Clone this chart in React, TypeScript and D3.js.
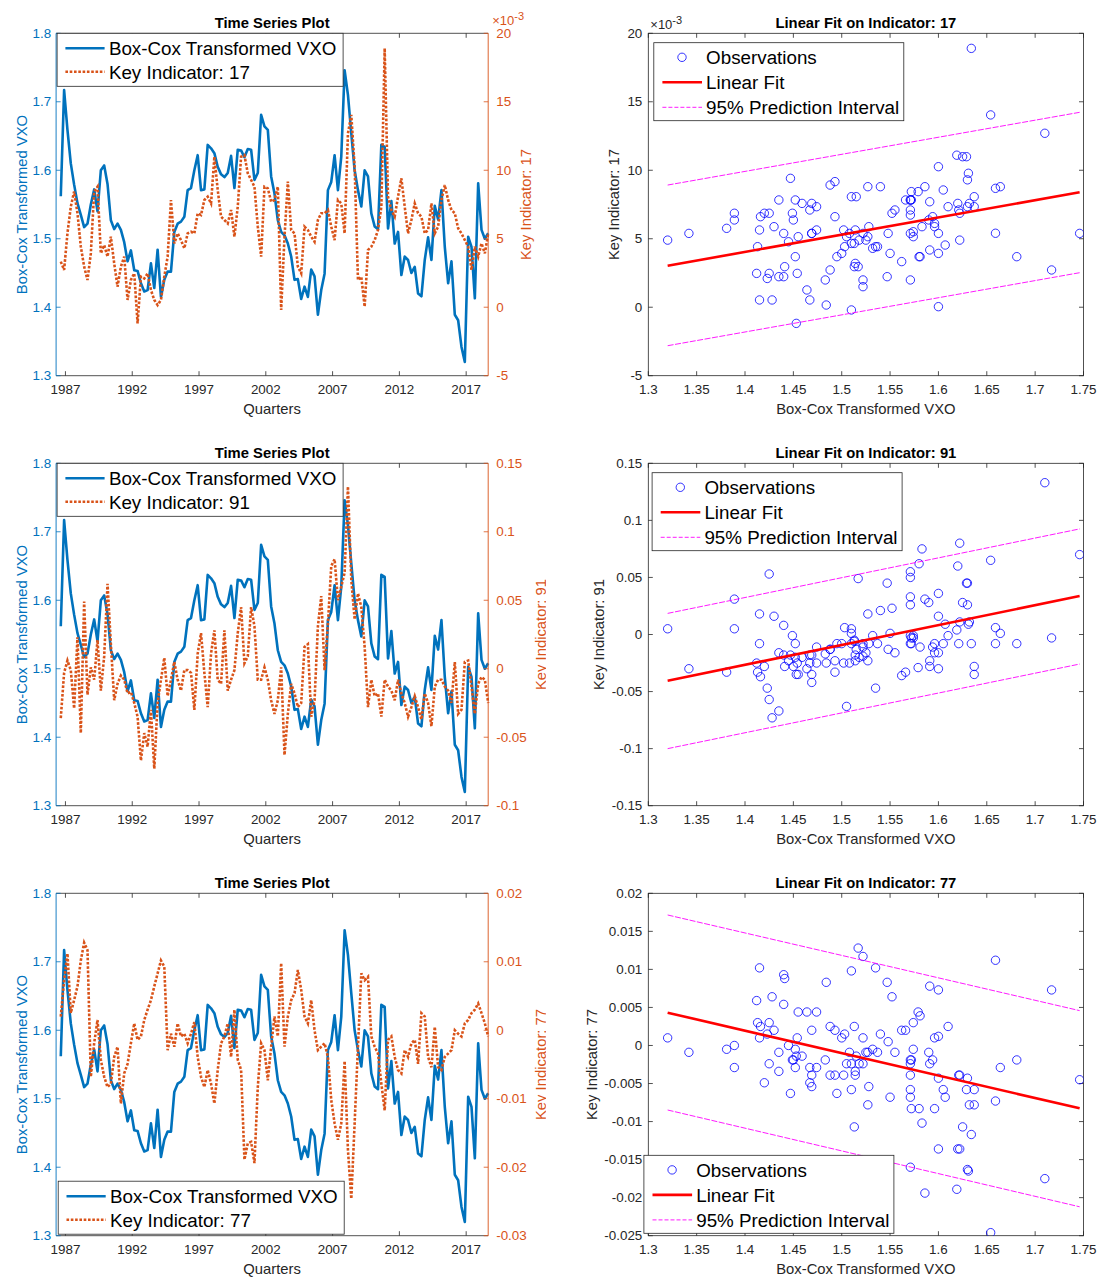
import React from 'react';
import * as d3 from 'd3';

const FONT = '"Liberation Sans", Arial, Helvetica, sans-serif';
const BLUE = '#0072BD';
const ORANGE = '#D95319';
const AXIS = '#262626';

// quarterly samples, the first one sits just before 1987
const T0 = 1986.65;
const STEP = 0.25;

const VXO = [
  1.562, 1.717, 1.659, 1.61, 1.579, 1.552, 1.535, 1.517, 1.522, 1.55,
  1.572, 1.54, 1.6, 1.607, 1.58, 1.527, 1.514, 1.522, 1.513, 1.495,
  1.467, 1.483, 1.454, 1.453, 1.435, 1.423, 1.425, 1.464, 1.428, 1.484,
  1.415, 1.44, 1.452, 1.452, 1.51, 1.522, 1.525, 1.532, 1.571, 1.574,
  1.6, 1.622, 1.571, 1.572, 1.637, 1.632, 1.625, 1.605, 1.594, 1.59,
  1.596, 1.621, 1.574, 1.63, 1.629, 1.619, 1.631, 1.63, 1.586, 1.596,
  1.681, 1.664, 1.659, 1.591, 1.566, 1.527, 1.51, 1.505, 1.493, 1.474,
  1.44, 1.441, 1.412, 1.43, 1.415, 1.455, 1.445, 1.389, 1.425, 1.449,
  1.571, 1.583, 1.622, 1.571, 1.62, 1.746, 1.71, 1.654, 1.6, 1.571,
  1.547, 1.6, 1.591, 1.537, 1.518, 1.514, 1.637, 1.634, 1.515, 1.555,
  1.493, 1.51, 1.447, 1.474, 1.469, 1.45, 1.459, 1.42, 1.416, 1.469,
  1.502, 1.469, 1.548, 1.528, 1.571, 1.488, 1.435, 1.467, 1.389, 1.381,
  1.342, 1.32, 1.503, 1.488, 1.413, 1.581, 1.513, 1.5, 1.508,
];

// indicator 17, in units of 1e-3
const IND17 = [
  3.33, 2.72, 5.4, 7.34, 8.44, 6.86, 4.42, 2.96, 1.99, 3.93,
  8.44, 8.8, 3.93, 4.54, 3.69, 5.15, 3.2, 1.5, 2.96, 3.69,
  0.53, 1.99, 2.47, -1.18, 2.23, 2.1, 2.47, 1.26, 0.53, 0.16,
  0.53, 2.23, 3.69, 7.83, 4.66, 5.39, 4.9, 4.3, 5.39, 5.51,
  5.39, 6.86, 6.73, 7.83, 8.07, 7.58, 10.99, 8.56, 6.61, 6.37,
  6.12, 7.1, 5.15, 7.34, 10.99, 11.1, 9.78, 9.3, 8.8, 5.88,
  3.69, 8.8, 8.68, 7.7, 7.83, 8.8, -0.2, 5.15, 9.17, 5.64,
  5.39, 2.96, 2.47, 5.88, 5.64, 5.15, 4.78, 6.37, 6.86, 6.86,
  7.1, 5.88, 4.9, 7.83, 7.58, 5.39, 12.7, 14.04, 10.26, 1.99,
  2.23, 0.04, 4.18, 4.42, 4.9, 5.64, 7.34, 18.9, 8.07, 7.1,
  6.61, 8.07, 9.41, 7.34, 5.39, 6.37, 7.58, 6.86, 6.61, 5.39,
  5.64, 7.58, 5.39, 5.88, 7.83, 8.92, 7.83, 7.1, 6.86, 5.76,
  5.39, 4.9, 4.42, 2.72, 4.42, 3.69, 4.66, 3.93, 5.39,
];

const IND91 = [
  -0.036, -0.003, 0.006, -0.001, -0.029, 0.023, -0.047, 0.049, -0.019, 0.001,
  -0.008, 0.021, -0.016, 0.009, 0.062, 0.018, -0.023, -0.011, -0.005, -0.008,
  -0.018, -0.017, -0.025, -0.035, -0.067, -0.047, -0.057, -0.03, -0.073, -0.025,
  -0.008, 0.008, -0.02, -0.008, 0.005, -0.008, -0.016, -0.001, -0.001, -0.003,
  -0.03, 0.011, 0.026, -0.003, -0.028, 0.011, 0.028, -0.008, -0.011, 0.028,
  -0.016, -0.008, -0.001, 0.026, 0.045, 0.004, 0.009, 0.045, 0.031, -0.008,
  -0.008, 0.001, -0.008, -0.023, -0.033, -0.023, 0.001, -0.063, -0.033, -0.011,
  -0.018, -0.028, -0.025, 0.016, 0.018, -0.035, -0.023, 0.031, 0.053, -0.001,
  0.033, 0.075, 0.08, 0.05, 0.06, 0.07, 0.133, 0.065, 0.036, 0.055,
  0.045, 0.016, -0.028, -0.008, -0.02, -0.018, -0.035, -0.008, -0.013, -0.016,
  -0.023, -0.008, -0.018, -0.025, -0.035, -0.028, -0.02, -0.028, -0.037, -0.018,
  -0.025, -0.042, -0.013, -0.008, -0.008, -0.013, -0.016, -0.025, 0.005, -0.033,
  -0.03, 0.005, 0.006, -0.013, -0.033, -0.011, -0.006, -0.008, -0.025,
];

const IND77 = [
  0.002, 0.0073, 0.0112, 0.0025, 0.0044, 0.0064, 0.0102, 0.0128, 0.0117, -0.0068,
  -0.0019, 0.0015, -0.0043, -0.0068, -0.0083, -0.0078, -0.0039, -0.0024, -0.0107, -0.0063,
  -0.0049, -0.0019, 0.001, -0.0014, -0.0009, 0.0015, 0.003, 0.0044, 0.0064, 0.0083,
  0.0102, 0.0093, -0.0029, -0.0005, -0.0024, 0.001, -0.0009, -0.0005, -0.0019, -0.0005,
  0.0012, -0.0039, -0.0068, -0.0083, -0.0058, -0.0078, -0.0107, -0.0058, -0.0019, -0.0009,
  0.001, -0.0039, 0.003, -0.0043, -0.0058, -0.0189, -0.0165, -0.0163, -0.0194, -0.0083,
  -0.0019, -0.0029, -0.0073, -0.0024, 0.002, -0.0009, 0.0098, -0.0024, 0.002, 0.0044,
  0.0054, 0.0088, 0.0059, 0.002, 0.001, 0.0044, 0, -0.0029, -0.0024, -0.0019,
  -0.0039, -0.0102, -0.0136, -0.016, -0.0136, -0.0045, -0.0175, -0.0246, -0.0136, -0.0024,
  0.0083, 0.0073, 0.0078, -0.0009, -0.0024, -0.0034, -0.0078, -0.0117, -0.0014, -0.0009,
  -0.0039, -0.0058, -0.0063, -0.0029, -0.0039, -0.0019, -0.0014, -0.0049, 0.0025, 0.002,
  -0.0039, -0.0054, 0.0005, -0.0054, -0.0058, -0.0039, -0.0034, -0.0029, 0, -0.0005,
  -0.0009, 0.001, 0.0015, 0.0025, 0.003, 0.0039, 0.0025, 0.001, -0.0009,
];

// fitted line and 95% prediction bounds at the smallest and largest VXO
const FIT17 = [3.03, 8.39];
const PI17_UP = [8.92, 14.23];
const PI17_LO = [-2.81, 2.52];
const FIT91 = [-0.0405, 0.0337];
const PI91_UP = [0.0185, 0.0925];
const PI91_LO = [-0.1, -0.0259];
const FIT77 = [0.00431, -0.00826];
const PI77_UP = [0.01715, 0.00458];
const PI77_LO = [-0.00848, -0.0212];

const YEAR_TICKS = [1987, 1992, 1997, 2002, 2007, 2012, 2017];
const VXO_TICKS = [1.3, 1.4, 1.5, 1.6, 1.7, 1.8];
const SC_X_TICKS = [1.3, 1.35, 1.4, 1.45, 1.5, 1.55, 1.6, 1.65, 1.7, 1.75];
const TICKS17 = [-5, 0, 5, 10, 15, 20];
const TICKS91_TS = [-0.1, -0.05, 0, 0.05, 0.1, 0.15];
const TICKS91_SC = [-0.15, -0.1, -0.05, 0, 0.05, 0.1, 0.15];
const TICKS77_TS = [-0.03, -0.02, -0.01, 0, 0.01, 0.02];
const TICKS77_SC = [-0.025, -0.02, -0.015, -0.01, -0.005, 0, 0.005, 0.01, 0.015, 0.02];

// layout
const ROW_TOPS = [33.3, 463.3, 893.3];
const PLOT_H = 342.4;
const TS_L = 56.1, TS_R = 488.2;
const SC_L = 648.3, SC_R = 1083.5;
const TICK = 4.5;
const TICK_FS = 13.4;
const LABEL_FS = 14.8;
const LEGEND_FS = 18.8;

const fmt = (d: number) => String(+d.toFixed(4));

const PANELS = [
  {
    id: 17, values: IND17, tsDomain: [-5, 20], tsTicks: TICKS17, scDomain: [-5, 20], scTicks: TICKS17,
    fit: FIT17, up: PI17_UP, lo: PI17_LO, exp: true, tsLegendBottom: false, scLegendBottom: false,
    rLabelX: 531, scLabelX: 619, tsLegendX: 57.1, scLegendX: 653.8,
  },
  {
    id: 91, values: IND91, tsDomain: [-0.1, 0.15], tsTicks: TICKS91_TS, scDomain: [-0.15, 0.15], scTicks: TICKS91_SC,
    fit: FIT91, up: PI91_UP, lo: PI91_LO, exp: false, tsLegendBottom: false, scLegendBottom: false,
    rLabelX: 545.5, scLabelX: 603.5, tsLegendX: 57.1, scLegendX: 652.1,
  },
  {
    id: 77, values: IND77, tsDomain: [-0.03, 0.02], tsTicks: TICKS77_TS, scDomain: [-0.025, 0.02], scTicks: TICKS77_SC,
    fit: FIT77, up: PI77_UP, lo: PI77_LO, exp: false, tsLegendBottom: true, scLegendBottom: true,
    rLabelX: 545.5, scLabelX: 596.5, tsLegendX: 58.2, scLegendX: 643.9,
  },
];

function Exponent({ x, y, color }: { x: number; y: number; color: string }) {
  return (
    <text x={x} y={y} fill={color} fontSize={13}>
      ×10<tspan dy={-5} fontSize={11}>-3</tspan>
    </text>
  );
}

function TimeSeries({ p, top }: { p: any; top: number }) {
  const bottom = top + PLOT_H;
  const x = d3.scaleLinear().domain([1986.3, T0 + STEP * (VXO.length - 1)]).range([TS_L, TS_R]);
  const yL = d3.scaleLinear().domain([1.3, 1.8]).range([bottom, top]);
  const yR = d3.scaleLinear().domain(p.tsDomain).range([bottom, top]);
  const lineL = d3.line<number>().x((d, i) => x(T0 + STEP * i)).y((d) => yL(d));
  const lineR = d3.line<number>().x((d, i) => x(T0 + STEP * i)).y((d) => yR(d));
  const cx = (TS_L + TS_R) / 2;
  const midY = (top + bottom) / 2;

  const legW = 286;
  const legH = 53;
  const legY = p.tsLegendBottom ? bottom - legH - 1.5 : top;
  const legX = p.tsLegendX;

  return (
    <g>
      <path d={lineL(VXO) || ''} fill="none" stroke={BLUE} strokeWidth={2.6} strokeLinejoin="round" />
      <path d={lineR(p.values) || ''} fill="none" stroke={ORANGE} strokeWidth={2.6} strokeDasharray="2.6 1.7" />

      {/* box: gray top/bottom, colored sides */}
      <line x1={TS_L} x2={TS_R} y1={bottom} y2={bottom} stroke={AXIS} strokeWidth={0.8} />
      <line x1={TS_L} x2={TS_R} y1={top} y2={top} stroke={AXIS} strokeWidth={0.8} />
      <line x1={TS_L} x2={TS_L} y1={top} y2={bottom} stroke={BLUE} strokeWidth={0.9} />
      <line x1={TS_R} x2={TS_R} y1={top} y2={bottom} stroke={ORANGE} strokeWidth={0.9} />

      {YEAR_TICKS.map((t) => (
        <g key={t}>
          <line x1={x(t)} x2={x(t)} y1={bottom} y2={bottom - TICK} stroke={AXIS} strokeWidth={0.8} />
          <line x1={x(t)} x2={x(t)} y1={top} y2={top + TICK} stroke={AXIS} strokeWidth={0.8} />
          <text x={x(t)} y={bottom + 18} textAnchor="middle" fontSize={TICK_FS} fill={AXIS}>{t}</text>
        </g>
      ))}
      {VXO_TICKS.map((t) => (
        <g key={t}>
          <line x1={TS_L} x2={TS_L + TICK} y1={yL(t)} y2={yL(t)} stroke={BLUE} strokeWidth={0.8} />
          <text x={TS_L - 5} y={yL(t) + 4.7} textAnchor="end" fontSize={TICK_FS} fill={BLUE}>{fmt(t)}</text>
        </g>
      ))}
      {p.tsTicks.map((t: number) => (
        <g key={t}>
          <line x1={TS_R} x2={TS_R - TICK} y1={yR(t)} y2={yR(t)} stroke={ORANGE} strokeWidth={0.8} />
          <text x={TS_R + 8} y={yR(t) + 4.7} fontSize={TICK_FS} fill={ORANGE}>{fmt(t)}</text>
        </g>
      ))}
      {p.exp && <Exponent x={TS_R + 4} y={top - 8} color={ORANGE} />}

      <text x={cx} y={top - 5.3} textAnchor="middle" fontSize={LABEL_FS} fontWeight="bold" fill="#000">Time Series Plot</text>
      <text x={cx} y={bottom + 38.5} textAnchor="middle" fontSize={LABEL_FS} fill={AXIS}>Quarters</text>
      <text transform={`translate(26.5,${midY}) rotate(-90)`} textAnchor="middle" fontSize={LABEL_FS} fill={BLUE}>Box-Cox Transformed VXO</text>
      <g clipPath="url(#rlab)">
        <text transform={`translate(${p.rLabelX},${midY}) rotate(-90)`} textAnchor="middle" fontSize={LABEL_FS} fill={ORANGE}>
          Key Indicator: {p.id}
        </text>
      </g>

      <rect x={legX} y={legY} width={legW} height={legH} fill="#fff" stroke={AXIS} strokeWidth={0.8} />
      <line x1={legX + 8.3} x2={legX + 47.5} y1={legY + 15} y2={legY + 15} stroke={BLUE} strokeWidth={2.6} />
      <text x={legX + 51.8} y={legY + 15 + 6.8} fontSize={LEGEND_FS} fill="#000">Box-Cox Transformed VXO</text>
      <line x1={legX + 8.3} x2={legX + 47.5} y1={legY + 38.5} y2={legY + 38.5} stroke={ORANGE} strokeWidth={2.6} strokeDasharray="2.6 1.7" />
      <text x={legX + 51.8} y={legY + 38.5 + 6.8} fontSize={LEGEND_FS} fill="#000">Key Indicator: {p.id}</text>
    </g>
  );
}

function Scatter({ p, top }: { p: any; top: number }) {
  const bottom = top + PLOT_H;
  const x = d3.scaleLinear().domain([1.3, 1.75]).range([SC_L, SC_R]);
  const y = d3.scaleLinear().domain(p.scDomain).range([bottom, top]);
  const ext = d3.extent(VXO) as [number, number];
  const seg = (v: number[]) => d3.line<number>().x((d, i) => x(ext[i])).y((d) => y(d))(v) || '';
  const pts = VXO.map((v, i) => [v, p.values[i]]);
  const cx = (SC_L + SC_R) / 2;
  const midY = (top + bottom) / 2;

  const legW = 250;
  const legH = 78;
  const legY = p.scLegendBottom ? bottom - legH - 2.4 : top + 9.4;
  const legX = p.scLegendX;
  const rows = [14.6, 39.6, 64.6];

  return (
    <g>
      <defs>
        <clipPath id={`sc${p.id}`}>
          <rect x={SC_L} y={top} width={SC_R - SC_L} height={PLOT_H} />
        </clipPath>
      </defs>
      <rect x={SC_L} y={top} width={SC_R - SC_L} height={PLOT_H} fill="none" stroke={AXIS} strokeWidth={0.8} />
      {SC_X_TICKS.map((t) => (
        <g key={t}>
          <line x1={x(t)} x2={x(t)} y1={bottom} y2={bottom - TICK} stroke={AXIS} strokeWidth={0.8} />
          <line x1={x(t)} x2={x(t)} y1={top} y2={top + TICK} stroke={AXIS} strokeWidth={0.8} />
          <text x={x(t)} y={bottom + 18} textAnchor="middle" fontSize={TICK_FS} fill={AXIS}>{fmt(t)}</text>
        </g>
      ))}
      {p.scTicks.map((t: number) => (
        <g key={t}>
          <line x1={SC_L} x2={SC_L + TICK} y1={y(t)} y2={y(t)} stroke={AXIS} strokeWidth={0.8} />
          <line x1={SC_R} x2={SC_R - TICK} y1={y(t)} y2={y(t)} stroke={AXIS} strokeWidth={0.8} />
          <text x={SC_L - 6} y={y(t) + 4.7} textAnchor="end" fontSize={TICK_FS} fill={AXIS}>{fmt(t)}</text>
        </g>
      ))}
      {p.exp && <Exponent x={SC_L + 2} y={top - 4.5} color={AXIS} />}

      <g clipPath={`url(#sc${p.id})`}>
        {pts.map((d, i) => (
          <circle key={i} cx={x(d[0])} cy={y(d[1])} r={4.2} fill="none" stroke="#0000FF" strokeWidth={0.8} />
        ))}
        <path d={seg(p.up)} stroke="#FF00FF" strokeWidth={0.9} fill="none" strokeDasharray="6 1.5" />
        <path d={seg(p.lo)} stroke="#FF00FF" strokeWidth={0.9} fill="none" strokeDasharray="6 1.5" />
        <path d={seg(p.fit)} stroke="#FF0000" strokeWidth={2.6} fill="none" />
      </g>

      <text x={cx} y={top - 5} textAnchor="middle" fontSize={LABEL_FS} fontWeight="bold" fill="#000">
        Linear Fit on Indicator: {p.id}
      </text>
      <text x={cx} y={bottom + 38.5} textAnchor="middle" fontSize={LABEL_FS} fill={AXIS}>Box-Cox Transformed VXO</text>
      <text transform={`translate(${p.scLabelX},${midY}) rotate(-90)`} textAnchor="middle" fontSize={LABEL_FS} fill={AXIS}>
        Key Indicator: {p.id}
      </text>

      <rect x={legX} y={legY} width={legW} height={legH} fill="#fff" stroke={AXIS} strokeWidth={0.8} />
      <circle cx={legX + 28.2} cy={legY + rows[0]} r={4.2} fill="none" stroke="#0000FF" strokeWidth={0.8} />
      <text x={legX + 52.3} y={legY + rows[0] + 6.8} fontSize={LEGEND_FS} fill="#000">Observations</text>
      <line x1={legX + 8.6} x2={legX + 48.2} y1={legY + rows[1]} y2={legY + rows[1]} stroke="#FF0000" strokeWidth={2.6} />
      <text x={legX + 52.3} y={legY + rows[1] + 6.8} fontSize={LEGEND_FS} fill="#000">Linear Fit</text>
      <line x1={legX + 8.6} x2={legX + 48.2} y1={legY + rows[2]} y2={legY + rows[2]} stroke="#FF00FF" strokeWidth={0.9} strokeDasharray="4 2" />
      <text x={legX + 52.3} y={legY + rows[2] + 6.8} fontSize={LEGEND_FS} fill="#000">95% Prediction Interval</text>
    </g>
  );
}

export default function App() {
  return (
    <svg
      width={1099}
      height={1279}
      style={{ position: 'absolute', left: 0, top: 0, background: '#fff' }}
      fontFamily={FONT}
    >
      <defs>
        <clipPath id="rlab">
          <rect x={0} y={0} width={546} height={1279} />
        </clipPath>
      </defs>
      <rect width={1099} height={1279} fill="#fff" />
      {PANELS.map((p, k) => (
        <g key={p.id}>
          <TimeSeries p={p} top={ROW_TOPS[k]} />
          <Scatter p={p} top={ROW_TOPS[k]} />
        </g>
      ))}
    </svg>
  );
}
